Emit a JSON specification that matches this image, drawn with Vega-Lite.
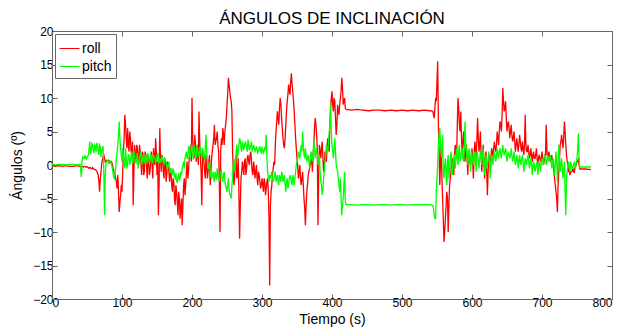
{
  "$schema": "https://vega.github.io/schema/vega-lite/v6.json",
  "width": 560,
  "height": 268,
  "autosize": {"type": "none"},
  "padding": {"left": 52, "top": 31, "right": 23, "bottom": 30},
  "background": "white",
  "title": {"text": "ÁNGULOS DE INCLINACIÓN", "font": "Liberation Sans", "fontSize": 17, "fontWeight": "normal", "color": "black", "offset": -3, "anchor": "middle"},
  "datasets": {"d": [
    {"t":0,"roll":-0.1,"pitch":0.1},{"t":5,"roll":-0.2,"pitch":0.0},{"t":10,"roll":-0.1,"pitch":0.1},{"t":15,"roll":-0.2,"pitch":0.1},{"t":20,"roll":-0.1,"pitch":0.0},{"t":25,"roll":-0.2,"pitch":0.1},{"t":30,"roll":-0.2,"pitch":0.1},{"t":35,"roll":-0.1,"pitch":0.0},{"t":40,"roll":-0.2,"pitch":0.1},
    {"t":42,"roll":-0.2,"pitch":-1.8},{"t":44,"roll":-0.3,"pitch":1.2},{"t":46,"roll":-0.2,"pitch":1.0},{"t":48,"roll":-0.3,"pitch":1.3},{"t":50,"roll":-0.3,"pitch":1.1},{"t":52,"roll":-0.4,"pitch":1.5},{"t":54,"roll":-0.4,"pitch":3.5},{"t":56,"roll":-0.5,"pitch":2.0},{"t":58,"roll":-0.4,"pitch":3.0},{"t":60,"roll":-0.6,"pitch":1.8},
    {"t":62,"roll":-0.7,"pitch":2.8},{"t":64,"roll":-0.9,"pitch":3.3},{"t":66,"roll":-1.5,"pitch":2.0},{"t":68,"roll":-4.0,"pitch":3.0},{"t":70,"roll":-1.0,"pitch":1.2},{"t":72,"roll":0.8,"pitch":2.5},{"t":74,"roll":1.5,"pitch":-1.0},{"t":75,"roll":1.0,"pitch":-7.5},{"t":76,"roll":0.5,"pitch":-2.0},{"t":78,"roll":0.7,"pitch":0.5},
    {"t":80,"roll":0.5,"pitch":0.6},{"t":82,"roll":0.6,"pitch":0.4},{"t":84,"roll":0.4,"pitch":0.5},{"t":86,"roll":0.2,"pitch":-0.5},{"t":88,"roll":-0.8,"pitch":-1.8},{"t":90,"roll":-1.5,"pitch":-1.2},{"t":92,"roll":-2.5,"pitch":1.0},{"t":94,"roll":-1.5,"pitch":3.0},{"t":96,"roll":-7.0,"pitch":6.5},{"t":98,"roll":-4.5,"pitch":2.5},
    {"t":100,"roll":-4.0,"pitch":0.5},{"t":102,"roll":2.0,"pitch":1.5},{"t":104,"roll":7.5,"pitch":-0.5},{"t":106,"roll":4.0,"pitch":1.0},{"t":108,"roll":5.5,"pitch":0.2},{"t":110,"roll":2.0,"pitch":1.5},{"t":112,"roll":4.0,"pitch":0.5},{"t":114,"roll":1.5,"pitch":2.0},{"t":116,"roll":-6.0,"pitch":0.8},{"t":118,"roll":3.0,"pitch":1.5},
    {"t":120,"roll":0.5,"pitch":0.3},{"t":122,"roll":2.5,"pitch":1.8},{"t":124,"roll":0.0,"pitch":0.5},{"t":126,"roll":2.0,"pitch":1.5},{"t":128,"roll":-1.5,"pitch":0.0},{"t":130,"roll":1.0,"pitch":1.2},{"t":132,"roll":-1.0,"pitch":0.5},{"t":134,"roll":1.5,"pitch":1.5},{"t":136,"roll":-2.0,"pitch":0.2},{"t":138,"roll":0.5,"pitch":1.3},
    {"t":140,"roll":-1.0,"pitch":0.6},{"t":142,"roll":2.0,"pitch":1.4},{"t":144,"roll":-2.0,"pitch":0.5},{"t":146,"roll":1.0,"pitch":1.2},{"t":148,"roll":4.0,"pitch":0.4},{"t":150,"roll":-1.5,"pitch":1.5},{"t":152,"roll":-7.5,"pitch":0.8},{"t":154,"roll":5.5,"pitch":1.0},{"t":156,"roll":-1.0,"pitch":0.3},{"t":158,"roll":1.0,"pitch":1.0},
    {"t":160,"roll":-2.0,"pitch":0.2},{"t":162,"roll":0.5,"pitch":0.8},{"t":164,"roll":-1.5,"pitch":-0.2},{"t":166,"roll":0.0,"pitch":0.0},{"t":168,"roll":-2.5,"pitch":-0.8},{"t":170,"roll":-1.0,"pitch":-0.5},{"t":172,"roll":-4.0,"pitch":-1.5},{"t":174,"roll":-2.5,"pitch":-1.0},{"t":176,"roll":-6.0,"pitch":-2.0},{"t":178,"roll":-4.0,"pitch":-2.5},
    {"t":180,"roll":-7.5,"pitch":-1.8},{"t":182,"roll":-5.0,"pitch":-2.2},{"t":184,"roll":-6.5,"pitch":-1.0},{"t":186,"roll":-9.0,"pitch":-0.5},{"t":188,"roll":-3.0,"pitch":0.5},{"t":190,"roll":-4.5,"pitch":1.0},{"t":192,"roll":-1.0,"pitch":2.0},{"t":194,"roll":-2.0,"pitch":1.0},{"t":196,"roll":1.0,"pitch":2.5},{"t":198,"roll":3.0,"pitch":1.5},
    {"t":200,"roll":10.0,"pitch":2.5},{"t":202,"roll":2.0,"pitch":0.8},{"t":204,"roll":4.5,"pitch":2.0},{"t":206,"roll":0.5,"pitch":1.0},{"t":208,"roll":3.0,"pitch":2.5},{"t":210,"roll":8.0,"pitch":1.2},{"t":212,"roll":1.0,"pitch":2.8},{"t":214,"roll":-6.0,"pitch":1.0},{"t":216,"roll":2.0,"pitch":2.0},{"t":218,"roll":-1.0,"pitch":0.8},
    {"t":220,"roll":1.5,"pitch":4.5},{"t":222,"roll":-2.0,"pitch":0.5},{"t":224,"roll":0.5,"pitch":-0.5},{"t":226,"roll":-3.0,"pitch":-1.0},{"t":228,"roll":1.0,"pitch":-2.0},{"t":230,"roll":3.0,"pitch":-1.0},{"t":232,"roll":6.0,"pitch":-2.5},{"t":234,"roll":3.5,"pitch":-1.5},{"t":236,"roll":5.0,"pitch":-0.5},{"t":238,"roll":2.0,"pitch":-2.0},
    {"t":240,"roll":-10.0,"pitch":-1.5},{"t":242,"roll":4.0,"pitch":-0.8},{"t":244,"roll":5.5,"pitch":-2.5},{"t":246,"roll":3.0,"pitch":-1.0},{"t":248,"roll":6.0,"pitch":-3.0},{"t":250,"roll":9.0,"pitch":-4.0},{"t":252,"roll":13.0,"pitch":-2.0},{"t":254,"roll":11.0,"pitch":-4.5},{"t":256,"roll":9.5,"pitch":-5.0},{"t":258,"roll":2.0,"pitch":-2.0},
    {"t":260,"roll":-3.0,"pitch":1.0},{"t":262,"roll":0.5,"pitch":0.0},{"t":264,"roll":-2.0,"pitch":3.0},{"t":266,"roll":1.0,"pitch":2.0},{"t":268,"roll":-11.0,"pitch":4.0},{"t":270,"roll":-2.0,"pitch":2.5},{"t":272,"roll":0.5,"pitch":3.5},{"t":274,"roll":-1.5,"pitch":2.2},{"t":276,"roll":1.0,"pitch":3.5},{"t":278,"roll":-0.5,"pitch":2.5},
    {"t":280,"roll":1.5,"pitch":3.8},{"t":282,"roll":0.0,"pitch":2.2},{"t":284,"roll":2.0,"pitch":3.0},{"t":286,"roll":-1.0,"pitch":2.0},{"t":288,"roll":0.5,"pitch":3.0},{"t":290,"roll":-2.0,"pitch":2.0},{"t":292,"roll":0.0,"pitch":2.8},{"t":294,"roll":-3.0,"pitch":1.8},{"t":296,"roll":-1.5,"pitch":2.5},{"t":298,"roll":-3.5,"pitch":2.0},
    {"t":300,"roll":-2.0,"pitch":2.6},{"t":302,"roll":-4.0,"pitch":1.8},{"t":304,"roll":-2.5,"pitch":2.5},{"t":306,"roll":-3.5,"pitch":4.5},{"t":308,"roll":-2.0,"pitch":-1.0},{"t":310,"roll":-8.0,"pitch":-2.5},{"t":311,"roll":-18.0,"pitch":-1.5},{"t":312,"roll":-6.0,"pitch":-2.0},{"t":314,"roll":-3.0,"pitch":-1.0},{"t":316,"roll":-0.5,"pitch":-2.5},{"t":318,"roll":0.0,"pitch":-1.5},
    {"t":320,"roll":5.0,"pitch":-2.5},{"t":322,"roll":8.0,"pitch":-1.5},{"t":324,"roll":6.0,"pitch":-3.0},{"t":326,"roll":10.0,"pitch":-2.0},{"t":328,"roll":7.0,"pitch":-1.0},{"t":330,"roll":4.0,"pitch":-2.5},{"t":332,"roll":2.5,"pitch":-1.5},{"t":334,"roll":6.0,"pitch":-4.0},{"t":336,"roll":9.5,"pitch":-2.0},{"t":338,"roll":12.0,"pitch":-3.0},
    {"t":340,"roll":10.5,"pitch":-1.5},{"t":342,"roll":13.7,"pitch":-2.5},{"t":344,"roll":11.0,"pitch":-1.5},{"t":346,"roll":8.0,"pitch":-3.0},{"t":348,"roll":4.0,"pitch":-1.0},{"t":350,"roll":1.0,"pitch":0.5},{"t":352,"roll":-2.0,"pitch":2.0},{"t":354,"roll":0.0,"pitch":1.0},{"t":356,"roll":-3.0,"pitch":3.0},{"t":358,"roll":-1.0,"pitch":5.0},
    {"t":360,"roll":-5.0,"pitch":1.5},{"t":362,"roll":-9.0,"pitch":2.5},{"t":364,"roll":-4.0,"pitch":0.5},{"t":366,"roll":-1.5,"pitch":1.5},{"t":368,"roll":-0.5,"pitch":-0.5},{"t":370,"roll":0.5,"pitch":2.0},{"t":372,"roll":-1.0,"pitch":0.5},{"t":374,"roll":3.0,"pitch":4.0},{"t":376,"roll":7.0,"pitch":1.0},{"t":378,"roll":4.5,"pitch":2.5},
    {"t":380,"roll":-9.0,"pitch":0.0},{"t":382,"roll":3.0,"pitch":1.5},{"t":384,"roll":1.0,"pitch":-2.5},{"t":386,"roll":3.5,"pitch":-4.5},{"t":388,"roll":-1.0,"pitch":-2.0},{"t":390,"roll":2.0,"pitch":0.5},{"t":392,"roll":0.5,"pitch":3.0},{"t":394,"roll":4.0,"pitch":2.0},{"t":396,"roll":2.0,"pitch":5.0},{"t":398,"roll":8.5,"pitch":9.0},
    {"t":400,"roll":11.0,"pitch":3.0},{"t":402,"roll":8.0,"pitch":1.0},{"t":404,"roll":9.5,"pitch":4.0},{"t":406,"roll":4.5,"pitch":0.0},{"t":408,"roll":9.0,"pitch":-1.0},{"t":410,"roll":7.5,"pitch":-3.0},{"t":412,"roll":10.0,"pitch":-2.0},{"t":414,"roll":13.0,"pitch":-7.5},{"t":416,"roll":9.0,"pitch":-5.0},{"t":418,"roll":10.0,"pitch":-1.0},
    {"t":420,"roll":8.3,"pitch":-5.9},{"t":428,"roll":8.2,"pitch":-5.9},{"t":436,"roll":8.3,"pitch":-6.0},{"t":444,"roll":8.2,"pitch":-5.9},{"t":452,"roll":8.1,"pitch":-5.9},{"t":460,"roll":8.2,"pitch":-6.0},{"t":468,"roll":8.2,"pitch":-5.9},{"t":476,"roll":8.1,"pitch":-5.9},{"t":484,"roll":8.2,"pitch":-6.0},{"t":492,"roll":8.1,"pitch":-5.9},
    {"t":500,"roll":8.2,"pitch":-5.9},{"t":508,"roll":8.1,"pitch":-6.0},{"t":516,"roll":8.2,"pitch":-5.9},{"t":524,"roll":8.1,"pitch":-5.9},{"t":532,"roll":8.2,"pitch":-5.9},{"t":540,"roll":8.1,"pitch":-5.9},
    {"t":544,"roll":8.0,"pitch":-6.0},{"t":546,"roll":7.0,"pitch":-7.5},{"t":548,"roll":10.0,"pitch":-8.0},{"t":550,"roll":12.5,"pitch":-2.0},{"t":551,"roll":15.5,"pitch":0.0},{"t":552,"roll":6.0,"pitch":3.0},{"t":554,"roll":-3.0,"pitch":5.5},{"t":556,"roll":3.0,"pitch":2.0},{"t":558,"roll":-5.0,"pitch":4.5},
    {"t":560,"roll":-11.5,"pitch":-2.0},{"t":562,"roll":-8.0,"pitch":1.0},{"t":564,"roll":-4.0,"pitch":-3.0},{"t":566,"roll":-10.0,"pitch":1.5},{"t":568,"roll":-3.0,"pitch":-1.0},{"t":570,"roll":-1.0,"pitch":2.0},{"t":572,"roll":1.0,"pitch":-1.5},{"t":574,"roll":-1.5,"pitch":1.0},{"t":576,"roll":3.0,"pitch":-0.5},{"t":578,"roll":1.0,"pitch":2.5},
    {"t":580,"roll":10.0,"pitch":0.0},{"t":582,"roll":6.0,"pitch":3.0},{"t":584,"roll":8.0,"pitch":1.0},{"t":586,"roll":2.0,"pitch":2.5},{"t":588,"roll":5.0,"pitch":0.5},{"t":590,"roll":0.5,"pitch":6.5},{"t":592,"roll":3.0,"pitch":2.0},{"t":594,"roll":-1.5,"pitch":0.0},{"t":596,"roll":2.0,"pitch":2.5},{"t":598,"roll":0.0,"pitch":-1.0},
    {"t":600,"roll":2.5,"pitch":1.5},{"t":602,"roll":-2.0,"pitch":0.0},{"t":604,"roll":3.5,"pitch":2.0},{"t":606,"roll":1.0,"pitch":-1.0},{"t":608,"roll":7.0,"pitch":1.5},{"t":610,"roll":2.0,"pitch":-0.5},{"t":612,"roll":5.0,"pitch":2.0},{"t":614,"roll":-1.0,"pitch":0.0},{"t":616,"roll":3.0,"pitch":2.5},{"t":618,"roll":-2.0,"pitch":-1.5},
    {"t":620,"roll":2.0,"pitch":1.5},{"t":622,"roll":-4.5,"pitch":0.0},{"t":624,"roll":1.0,"pitch":2.0},{"t":626,"roll":-1.0,"pitch":-2.0},{"t":628,"roll":2.5,"pitch":1.5},{"t":630,"roll":1.0,"pitch":0.0},{"t":632,"roll":3.5,"pitch":2.0},{"t":634,"roll":2.0,"pitch":0.5},{"t":636,"roll":5.0,"pitch":2.5},{"t":638,"roll":3.0,"pitch":1.0},
    {"t":640,"roll":6.5,"pitch":2.5},{"t":642,"roll":5.0,"pitch":1.0},{"t":644,"roll":11.5,"pitch":3.0},{"t":646,"roll":8.0,"pitch":1.5},{"t":648,"roll":9.5,"pitch":2.5},{"t":650,"roll":5.0,"pitch":0.5},{"t":652,"roll":6.5,"pitch":2.0},{"t":654,"roll":4.0,"pitch":1.0},{"t":656,"roll":6.0,"pitch":2.5},{"t":658,"roll":3.5,"pitch":0.5},
    {"t":660,"roll":5.0,"pitch":2.0},{"t":662,"roll":2.0,"pitch":0.0},{"t":664,"roll":4.0,"pitch":1.5},{"t":666,"roll":2.0,"pitch":-0.5},{"t":668,"roll":4.5,"pitch":1.5},{"t":670,"roll":2.5,"pitch":0.0},{"t":672,"roll":3.5,"pitch":1.5},{"t":674,"roll":1.5,"pitch":-1.0},{"t":676,"roll":7.5,"pitch":1.0},{"t":678,"roll":2.0,"pitch":0.0},
    {"t":680,"roll":3.0,"pitch":1.5},{"t":682,"roll":1.0,"pitch":-0.5},{"t":684,"roll":2.5,"pitch":1.0},{"t":686,"roll":0.5,"pitch":-1.5},{"t":688,"roll":2.0,"pitch":0.5},{"t":690,"roll":1.0,"pitch":-1.0},{"t":692,"roll":2.5,"pitch":0.0},{"t":694,"roll":0.0,"pitch":-1.5},{"t":696,"roll":1.5,"pitch":0.5},{"t":698,"roll":0.5,"pitch":-1.0},
    {"t":700,"roll":2.0,"pitch":1.0},{"t":702,"roll":0.0,"pitch":0.0},{"t":704,"roll":1.5,"pitch":1.5},{"t":706,"roll":6.0,"pitch":0.0},{"t":708,"roll":1.0,"pitch":1.5},{"t":710,"roll":2.0,"pitch":0.5},{"t":712,"roll":0.5,"pitch":1.5},{"t":714,"roll":1.5,"pitch":-0.5},{"t":716,"roll":0.0,"pitch":1.0},{"t":718,"roll":-2.0,"pitch":-1.5},
    {"t":720,"roll":-4.0,"pitch":2.0},{"t":722,"roll":-7.0,"pitch":-2.5},{"t":724,"roll":-1.0,"pitch":3.0},{"t":726,"roll":3.0,"pitch":-1.0},{"t":728,"roll":4.5,"pitch":1.0},{"t":730,"roll":2.5,"pitch":-2.0},{"t":732,"roll":6.5,"pitch":0.5},{"t":734,"roll":3.0,"pitch":-7.5},{"t":736,"roll":0.5,"pitch":-1.0},{"t":738,"roll":-1.0,"pitch":0.5},
    {"t":740,"roll":-1.5,"pitch":-1.0},{"t":742,"roll":-1.0,"pitch":0.0},{"t":744,"roll":-0.5,"pitch":-0.5},{"t":746,"roll":-1.2,"pitch":0.5},{"t":748,"roll":0.0,"pitch":-0.5},{"t":750,"roll":0.5,"pitch":1.0},{"t":752,"roll":1.0,"pitch":4.7},{"t":754,"roll":-0.6,"pitch":-0.3},{"t":762,"roll":-0.6,"pitch":-0.3},{"t":770,"roll":-0.7,"pitch":-0.3},
    {"t":43,"roll":-0.2,"pitch":0.8},{"t":45,"roll":-0.3,"pitch":1.0},{"t":47,"roll":-0.2,"pitch":1.4},{"t":49,"roll":-0.3,"pitch":0.9},{"t":51,"roll":-0.3,"pitch":1.3},{"t":53,"roll":-0.5,"pitch":2.5},{"t":55,"roll":-0.4,"pitch":1.6},{"t":57,"roll":-0.6,"pitch":3.2},{"t":59,"roll":-0.5,"pitch":2.2},
    {"t":61,"roll":-0.7,"pitch":3.0},{"t":63,"roll":-0.8,"pitch":2.0},{"t":65,"roll":-1.2,"pitch":3.0},{"t":67,"roll":-2.5,"pitch":1.5},{"t":69,"roll":-2.0,"pitch":2.8},{"t":71,"roll":0.2,"pitch":2.0},{"t":73,"roll":1.2,"pitch":2.8},{"t":77,"roll":0.6,"pitch":0.3},{"t":79,"roll":0.5,"pitch":0.7},
    {"t":81,"roll":0.7,"pitch":0.3},{"t":83,"roll":0.3,"pitch":0.6},{"t":85,"roll":0.5,"pitch":0.2},{"t":87,"roll":-0.3,"pitch":-1.0},{"t":89,"roll":-1.2,"pitch":-2.0},{"t":91,"roll":-2.0,"pitch":-0.5},{"t":93,"roll":-3.5,"pitch":2.0},{"t":95,"roll":-4.0,"pitch":4.5},{"t":97,"roll":-5.5,"pitch":4.0},{"t":99,"roll":-3.0,"pitch":1.5},
    {"t":101,"roll":-1.0,"pitch":2.5},{"t":103,"roll":4.0,"pitch":0.5},{"t":105,"roll":6.0,"pitch":2.5},{"t":107,"roll":2.5,"pitch":-0.5},{"t":109,"roll":3.0,"pitch":1.5},{"t":111,"roll":5.0,"pitch":0.0},{"t":113,"roll":2.0,"pitch":1.5},{"t":115,"roll":3.5,"pitch":0.2},{"t":117,"roll":-1.0,"pitch":2.0},{"t":119,"roll":1.0,"pitch":0.5},
    {"t":121,"roll":3.0,"pitch":1.0},{"t":123,"roll":1.0,"pitch":-0.5},{"t":125,"roll":3.0,"pitch":1.0},{"t":127,"roll":0.5,"pitch":2.0},{"t":129,"roll":2.0,"pitch":0.5},{"t":131,"roll":-1.5,"pitch":1.8},{"t":133,"roll":2.0,"pitch":0.2},{"t":135,"roll":0.0,"pitch":1.0},{"t":137,"roll":1.5,"pitch":1.8},{"t":139,"roll":-1.5,"pitch":0.3},
    {"t":141,"roll":0.5,"pitch":1.5},{"t":143,"roll":0.0,"pitch":0.2},{"t":145,"roll":2.5,"pitch":1.5},{"t":147,"roll":0.0,"pitch":1.0},{"t":149,"roll":2.0,"pitch":0.5},{"t":151,"roll":0.5,"pitch":1.8},{"t":153,"roll":-3.0,"pitch":0.2},{"t":155,"roll":1.0,"pitch":0.8},{"t":157,"roll":1.5,"pitch":1.3},{"t":159,"roll":-1.0,"pitch":0.4},
    {"t":161,"roll":1.0,"pitch":1.0},{"t":163,"roll":-2.5,"pitch":0.3},{"t":165,"roll":0.5,"pitch":-0.5},{"t":167,"roll":-1.0,"pitch":0.5},{"t":169,"roll":-0.5,"pitch":-1.2},{"t":171,"roll":-3.0,"pitch":-1.0},{"t":173,"roll":-2.0,"pitch":-0.5},{"t":175,"roll":-5.0,"pitch":-1.8},{"t":177,"roll":-3.0,"pitch":-1.2},{"t":179,"roll":-5.5,"pitch":-2.6},
    {"t":181,"roll":-4.0,"pitch":-1.2},{"t":183,"roll":-8.0,"pitch":-2.0},{"t":185,"roll":-5.0,"pitch":-1.5},{"t":187,"roll":-6.0,"pitch":0.0},{"t":189,"roll":-2.0,"pitch":-0.5},{"t":191,"roll":-3.0,"pitch":1.5},{"t":193,"roll":0.5,"pitch":1.0},{"t":195,"roll":-1.0,"pitch":2.8},{"t":197,"roll":2.0,"pitch":1.0},{"t":199,"roll":0.5,"pitch":3.0},
    {"t":201,"roll":4.0,"pitch":1.5},{"t":203,"roll":1.0,"pitch":3.0},{"t":205,"roll":3.0,"pitch":1.5},{"t":207,"roll":1.5,"pitch":3.0},{"t":209,"roll":0.0,"pitch":1.8},{"t":211,"roll":3.5,"pitch":2.0},{"t":213,"roll":-1.0,"pitch":1.5},{"t":215,"roll":1.0,"pitch":2.5},{"t":217,"roll":0.5,"pitch":1.2},{"t":219,"roll":-2.0,"pitch":2.5},
    {"t":221,"roll":0.0,"pitch":2.0},{"t":223,"roll":-1.0,"pitch":-0.5},{"t":225,"roll":1.5,"pitch":0.5},{"t":227,"roll":-1.0,"pitch":-1.8},{"t":229,"roll":2.0,"pitch":-1.5},{"t":231,"roll":4.0,"pitch":-2.0},{"t":233,"roll":3.0,"pitch":-1.0},{"t":235,"roll":4.0,"pitch":-2.2},{"t":237,"roll":3.0,"pitch":-1.5},{"t":239,"roll":-2.0,"pitch":-2.5},
    {"t":241,"roll":2.0,"pitch":-1.0},{"t":243,"roll":3.0,"pitch":-2.0},{"t":245,"roll":4.5,"pitch":-1.5},{"t":247,"roll":5.0,"pitch":-2.5},{"t":249,"roll":7.0,"pitch":-3.5},{"t":251,"roll":10.5,"pitch":-3.0},{"t":253,"roll":12.0,"pitch":-3.5},{"t":255,"roll":10.0,"pitch":-4.5},{"t":257,"roll":8.0,"pitch":-3.0},{"t":259,"roll":-1.0,"pitch":0.0},
    {"t":261,"roll":-1.5,"pitch":-1.0},{"t":263,"roll":1.5,"pitch":2.0},{"t":265,"roll":-1.5,"pitch":1.0},{"t":267,"roll":-4.0,"pitch":3.0},{"t":269,"roll":-6.0,"pitch":3.5},{"t":271,"roll":-1.0,"pitch":2.0},{"t":273,"roll":-0.5,"pitch":3.0},{"t":275,"roll":0.5,"pitch":2.8},{"t":277,"roll":-1.5,"pitch":3.2},{"t":279,"roll":1.0,"pitch":2.0},
    {"t":281,"roll":0.5,"pitch":3.2},{"t":283,"roll":1.5,"pitch":2.6},{"t":285,"roll":0.5,"pitch":3.5},{"t":287,"roll":-1.5,"pitch":2.4},{"t":289,"roll":-0.5,"pitch":2.6},{"t":291,"roll":-1.0,"pitch":2.2},{"t":293,"roll":-2.0,"pitch":2.4},{"t":295,"roll":-1.0,"pitch":2.0},{"t":297,"roll":-2.5,"pitch":2.8},{"t":299,"roll":-3.0,"pitch":1.8},
    {"t":301,"roll":-3.0,"pitch":2.4},{"t":303,"roll":-2.0,"pitch":2.0},{"t":305,"roll":-4.5,"pitch":2.2},{"t":307,"roll":-2.5,"pitch":1.0},{"t":309,"roll":-4.0,"pitch":-2.0},{"t":313,"roll":-4.0,"pitch":-1.5},{"t":315,"roll":-1.5,"pitch":-2.0},{"t":317,"roll":0.5,"pitch":-2.0},{"t":319,"roll":3.0,"pitch":-1.0},
    {"t":321,"roll":6.5,"pitch":-2.0},{"t":323,"roll":7.0,"pitch":-2.5},{"t":325,"roll":8.5,"pitch":-1.5},{"t":327,"roll":9.0,"pitch":-2.5},{"t":329,"roll":5.5,"pitch":-1.5},{"t":331,"roll":3.0,"pitch":-2.0},{"t":333,"roll":4.0,"pitch":-3.0},{"t":335,"roll":8.0,"pitch":-2.5},{"t":337,"roll":10.5,"pitch":-3.5},{"t":339,"roll":11.0,"pitch":-2.0},
    {"t":341,"roll":12.5,"pitch":-2.0},{"t":343,"roll":12.0,"pitch":-3.0},{"t":345,"roll":9.5,"pitch":-2.0},{"t":347,"roll":6.0,"pitch":-2.0},{"t":349,"roll":2.5,"pitch":0.0},{"t":351,"roll":0.0,"pitch":1.0},{"t":353,"roll":-1.0,"pitch":1.5},{"t":355,"roll":-2.0,"pitch":2.0},{"t":357,"roll":-2.0,"pitch":2.0},{"t":359,"roll":-3.0,"pitch":3.0},
    {"t":361,"roll":-6.5,"pitch":1.0},{"t":363,"roll":-6.0,"pitch":1.5},{"t":365,"roll":-3.0,"pitch":1.0},{"t":367,"roll":-1.0,"pitch":0.5},{"t":369,"roll":0.0,"pitch":1.0},{"t":371,"roll":1.0,"pitch":1.5},{"t":373,"roll":1.5,"pitch":1.0},{"t":375,"roll":5.5,"pitch":2.5},{"t":377,"roll":6.0,"pitch":2.0},{"t":379,"roll":2.5,"pitch":1.5},
    {"t":381,"roll":-2.0,"pitch":1.0},{"t":383,"roll":2.0,"pitch":-1.0},{"t":385,"roll":2.5,"pitch":-3.0},{"t":387,"roll":1.0,"pitch":-3.5},{"t":389,"roll":0.0,"pitch":-1.0},{"t":391,"roll":1.0,"pitch":1.5},{"t":393,"roll":3.0,"pitch":2.0},{"t":395,"roll":2.5,"pitch":3.5},{"t":397,"roll":6.0,"pitch":6.0},{"t":399,"roll":10.0,"pitch":5.0},
    {"t":401,"roll":9.0,"pitch":2.0},{"t":403,"roll":10.0,"pitch":2.5},{"t":405,"roll":7.0,"pitch":2.0},{"t":407,"roll":6.0,"pitch":-0.5},{"t":409,"roll":8.0,"pitch":-2.0},{"t":411,"roll":9.0,"pitch":-4.0},{"t":413,"roll":11.0,"pitch":-5.0},{"t":415,"roll":11.5,"pitch":-6.0},{"t":417,"roll":9.5,"pitch":-3.0},{"t":419,"roll":8.5,"pitch":-5.5},
    {"t":545,"roll":7.5,"pitch":-6.5},{"t":547,"roll":8.5,"pitch":-8.0},{"t":549,"roll":9.5,"pitch":-4.0},{"t":553,"roll":2.0,"pitch":4.5},{"t":555,"roll":0.5,"pitch":3.5},{"t":557,"roll":-2.0,"pitch":1.0},{"t":559,"roll":-8.0,"pitch":-1.0},
    {"t":561,"roll":-10.0,"pitch":0.0},{"t":563,"roll":-6.0,"pitch":-1.0},{"t":565,"roll":-5.0,"pitch":0.5},{"t":567,"roll":-6.0,"pitch":-2.0},{"t":569,"roll":-2.0,"pitch":0.5},{"t":571,"roll":0.5,"pitch":1.0},{"t":573,"roll":-0.5,"pitch":0.0},{"t":575,"roll":1.5,"pitch":1.5},{"t":577,"roll":2.0,"pitch":0.5},{"t":579,"roll":6.0,"pitch":1.5},
    {"t":581,"roll":8.5,"pitch":2.0},{"t":583,"roll":5.0,"pitch":0.5},{"t":585,"roll":4.0,"pitch":2.0},{"t":587,"roll":3.5,"pitch":1.0},{"t":589,"roll":2.5,"pitch":2.5},{"t":591,"roll":2.0,"pitch":3.5},{"t":593,"roll":1.0,"pitch":1.0},{"t":595,"roll":1.5,"pitch":1.5},{"t":597,"roll":0.5,"pitch":0.5},{"t":599,"roll":1.0,"pitch":2.0},
    {"t":601,"roll":0.5,"pitch":0.5},{"t":603,"roll":1.5,"pitch":1.0},{"t":605,"roll":2.5,"pitch":0.5},{"t":607,"roll":4.0,"pitch":2.0},{"t":609,"roll":4.0,"pitch":0.5},{"t":611,"roll":3.0,"pitch":1.0},{"t":613,"roll":1.5,"pitch":1.0},{"t":615,"roll":1.0,"pitch":1.5},{"t":617,"roll":0.5,"pitch":0.5},{"t":619,"roll":1.0,"pitch":1.0},
    {"t":621,"roll":-1.0,"pitch":-0.5},{"t":623,"roll":-1.0,"pitch":1.0},{"t":625,"roll":1.5,"pitch":0.5},{"t":627,"roll":0.5,"pitch":0.5},{"t":629,"roll":2.0,"pitch":1.0},{"t":631,"roll":2.5,"pitch":1.5},{"t":633,"roll":2.5,"pitch":1.0},{"t":635,"roll":3.0,"pitch":1.5},{"t":637,"roll":4.0,"pitch":1.5},{"t":639,"roll":5.0,"pitch":2.0},
    {"t":641,"roll":6.0,"pitch":1.5},{"t":643,"roll":7.5,"pitch":2.0},{"t":645,"roll":9.5,"pitch":2.0},{"t":647,"roll":8.5,"pitch":2.0},{"t":649,"roll":7.0,"pitch":1.5},{"t":651,"roll":6.0,"pitch":1.5},{"t":653,"roll":5.5,"pitch":1.5},{"t":655,"roll":5.0,"pitch":1.5},{"t":657,"roll":4.5,"pitch":1.5},{"t":659,"roll":4.0,"pitch":1.0},
    {"t":661,"roll":3.5,"pitch":1.0},{"t":663,"roll":3.0,"pitch":0.5},{"t":665,"roll":3.0,"pitch":1.0},{"t":667,"roll":3.0,"pitch":0.5},{"t":669,"roll":3.5,"pitch":0.5},{"t":671,"roll":2.0,"pitch":1.0},{"t":673,"roll":2.5,"pitch":0.5},{"t":675,"roll":3.0,"pitch":0.0},{"t":677,"roll":3.0,"pitch":0.5},{"t":679,"roll":2.0,"pitch":1.0},
    {"t":681,"roll":2.0,"pitch":0.5},{"t":683,"roll":1.5,"pitch":0.0},{"t":685,"roll":1.5,"pitch":0.5},{"t":687,"roll":1.5,"pitch":-0.5},{"t":689,"roll":1.0,"pitch":0.0},{"t":691,"roll":1.5,"pitch":-0.5},{"t":693,"roll":1.0,"pitch":0.5},{"t":695,"roll":1.0,"pitch":-0.5},{"t":697,"roll":1.0,"pitch":0.0},{"t":699,"roll":1.0,"pitch":0.5},
    {"t":701,"roll":1.0,"pitch":0.5},{"t":703,"roll":0.5,"pitch":1.0},{"t":705,"roll":1.5,"pitch":1.0},{"t":707,"roll":2.0,"pitch":0.5},{"t":709,"roll":1.5,"pitch":1.0},{"t":711,"roll":1.0,"pitch":1.0},{"t":713,"roll":1.0,"pitch":0.5},{"t":715,"roll":0.5,"pitch":0.5},{"t":717,"roll":-1.0,"pitch":0.0},{"t":719,"roll":-3.0,"pitch":0.0},
    {"t":721,"roll":-5.0,"pitch":0.5},{"t":723,"roll":-3.0,"pitch":0.5},{"t":725,"roll":1.0,"pitch":1.0},{"t":727,"roll":3.5,"pitch":0.0},{"t":729,"roll":3.5,"pitch":-0.5},{"t":731,"roll":4.0,"pitch":-1.0},{"t":733,"roll":5.0,"pitch":-4.0},{"t":735,"roll":1.5,"pitch":-2.0},{"t":737,"roll":0.0,"pitch":0.0},{"t":739,"roll":-1.0,"pitch":-0.5},
    {"t":741,"roll":-1.0,"pitch":0.5},{"t":743,"roll":-1.0,"pitch":-0.5},{"t":745,"roll":-0.8,"pitch":0.0},{"t":747,"roll":-0.5,"pitch":0.0},{"t":749,"roll":0.0,"pitch":0.5},{"t":751,"roll":0.5,"pitch":2.5},{"t":753,"roll":0.0,"pitch":1.0}
  ]},
  "layer": [
    {
      "data": {"name": "d"},
      "transform": [{"fold": ["roll", "pitch"], "as": ["serie", "value"]}, {"filter": "datum.serie === 'roll'"}],
      "mark": {"type": "line", "strokeWidth": 1.3, "clip": true},
      "encoding": {
        "x": {"field": "t", "type": "quantitative", "scale": {"domain": [0, 800], "nice": false, "zero": false},
          "axis": {"title": "Tiempo (s)", "values": [0,100,200,300,400,500,600,700,800], "tickSize": -5, "labelPadding": 3, "titlePadding": 4, "grid": false}},
        "y": {"field": "value", "type": "quantitative", "scale": {"domain": [-20, 20], "nice": false},
          "axis": {"title": "Ángulos (º)", "values": [-20,-15,-10,-5,0,5,10,15,20], "tickSize": -5, "labelPadding": 4, "titlePadding": 8, "grid": false}},
        "color": {"field": "serie", "type": "nominal", "scale": {"domain": ["roll", "pitch"], "range": ["#ff0000", "#00ff00"]},
          "legend": {"title": null, "orient": "top-left", "offset": 3}}
      }
    },
    {
      "data": {"name": "d"},
      "transform": [{"fold": ["roll", "pitch"], "as": ["serie", "value"]}, {"filter": "datum.serie === 'pitch'"}],
      "mark": {"type": "line", "strokeWidth": 1.3, "clip": true},
      "encoding": {
        "x": {"field": "t", "type": "quantitative", "axis": {"orient": "top", "title": null, "labels": false, "values": [0,100,200,300,400,500,600,700,800], "tickSize": -5, "grid": false}},
        "y": {"field": "value", "type": "quantitative", "axis": {"orient": "right", "title": null, "labels": false, "values": [-20,-15,-10,-5,0,5,10,15,20], "tickSize": -5, "grid": false}},
        "color": {"field": "serie", "type": "nominal"}
      }
    }
  ],
  "resolve": {"axis": {"x": "independent", "y": "independent"}},
  "config": {
    "font": "Liberation Sans",
    "view": {"stroke": "#666666"},
    "axis": {"domainColor": "#666666", "tickColor": "#666666", "labelColor": "black", "titleColor": "black", "labelFontSize": 12, "titleFontSize": 14, "titleFontWeight": "normal", "labelFont": "Liberation Sans", "titleFont": "Liberation Sans"},
    "legend": {"symbolType": "stroke", "symbolSize": 400, "symbolStrokeWidth": 1, "labelFontSize": 14, "labelFont": "Liberation Sans", "labelColor": "black", "strokeColor": "#666666", "fillColor": "white", "padding": 4, "rowPadding": 0, "labelOffset": 2, "cornerRadius": 0}
  }
}
